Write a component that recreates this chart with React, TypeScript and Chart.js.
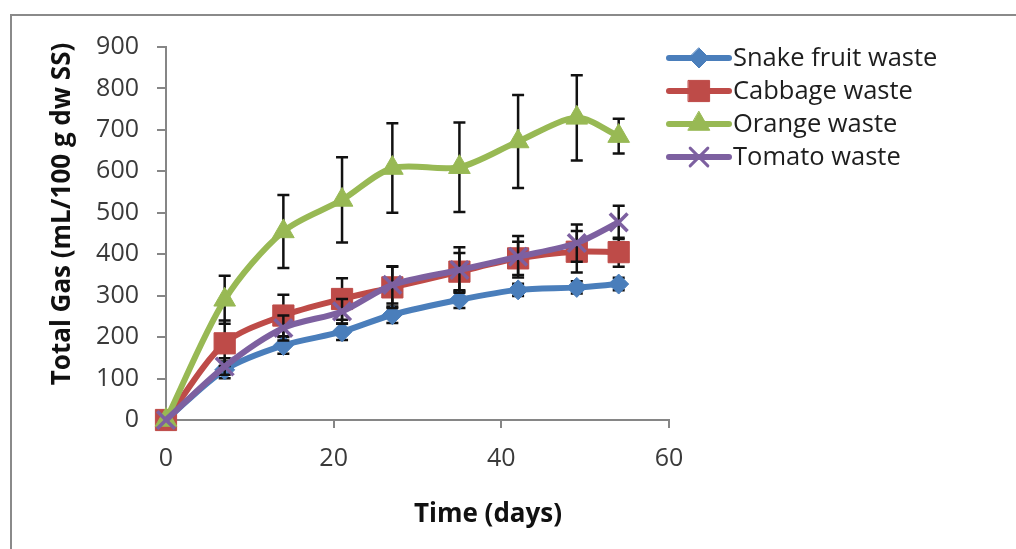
import React, { useEffect, useRef } from 'react';
import { Chart, registerables } from 'chart.js';

Chart.register(...registerables);

// ---- data ----
const days = [0, 7, 14, 21, 27, 35, 42, 49, 54];
const seriesNames = ['Snake fruit waste', 'Cabbage waste', 'Orange waste', 'Tomato waste'];
const snakeFruit = [0, 121, 180, 213, 254, 290, 314, 320, 328];
const cabbage = [0, 185, 252, 292, 320, 358, 390, 406, 405];
const orange = [0, 290, 455, 531, 608, 610, 672, 729, 685];
const tomato = [0, 129, 222, 262, 326, 362, 394, 427, 477];
const snakeFruitErr = [0, 20, 20, 20, 20, 20, 15, 15, 15];
const cabbageErr = [0, 55, 50, 50, 50, 45, 40, 50, 35];
const orangeErr = [0, 58, 88, 103, 108, 108, 112, 103, 42];
const tomatoErr = [0, 20, 30, 30, 45, 55, 50, 45, 40];
const xMin = 0, xMax = 60, xStep = 20;
const yMin = 0, yMax = 900, yStep = 100;
const xTitle = 'Time (days)';
const yTitle = 'Total Gas (mL/100 g dw SS)';

const COLORS = ['#4A7EBB', '#BE4B48', '#98B954', '#7D60A0'];
const STYLES = ['rectRot', 'rect', 'triangle', 'crossRot'];
const RADII = [10, 15, 12.5, 12.5];
const FONT = '"Open Sans", "Liberation Sans", sans-serif';
const AXIS_GREY = '#868686';

const values = [snakeFruit, cabbage, orange, tomato];
const errors = [snakeFruitErr, cabbageErr, orangeErr, tomatoErr];

function drawMarker(ctx: CanvasRenderingContext2D, style: string, x: number, y: number, r: number, color: string) {
  ctx.save();
  ctx.fillStyle = color;
  ctx.strokeStyle = color;
  ctx.lineWidth = 1;
  ctx.beginPath();
  if (style === 'rectRot') {
    ctx.moveTo(x, y - r); ctx.lineTo(x + r, y); ctx.lineTo(x, y + r); ctx.lineTo(x - r, y); ctx.closePath();
    ctx.fill(); ctx.stroke();
  } else if (style === 'rect') {
    const s = r * Math.SQRT1_2;
    ctx.rect(x - s, y - s, 2 * s, 2 * s); ctx.fill(); ctx.stroke();
  } else if (style === 'triangle') {
    ctx.moveTo(x, y - r);
    ctx.lineTo(x + r * Math.sin(2 * Math.PI / 3), y + r * 0.5);
    ctx.lineTo(x - r * Math.sin(2 * Math.PI / 3), y + r * 0.5);
    ctx.closePath(); ctx.fill(); ctx.stroke();
  } else {
    const o = r * Math.SQRT1_2;
    ctx.lineWidth = 3;
    ctx.moveTo(x - o, y - o); ctx.lineTo(x + o, y + o);
    ctx.moveTo(x + o, y - o); ctx.lineTo(x - o, y + o);
    ctx.stroke();
  }
  ctx.restore();
}

const errorBarPlugin = {
  id: 'errorBars',
  beforeDatasetDraw(chart: any, args: any) {
    const i = args.index;
    const errs = errors[i];
    const vals = values[i];
    const xs = chart.scales.x, ys = chart.scales.y;
    const ctx = chart.ctx as CanvasRenderingContext2D;
    ctx.save();
    ctx.strokeStyle = '#111111';
    ctx.lineWidth = 2.5;
    for (let j = 0; j < days.length; j++) {
      const e = errs[j];
      if (!e) continue;
      const x = xs.getPixelForValue(days[j]);
      const y1 = ys.getPixelForValue(vals[j] + e);
      const y2 = ys.getPixelForValue(vals[j] - e);
      ctx.beginPath();
      ctx.moveTo(x, y1); ctx.lineTo(x, y2);
      ctx.moveTo(x - 6, y1); ctx.lineTo(x + 6, y1);
      ctx.moveTo(x - 6, y2); ctx.lineTo(x + 6, y2);
      ctx.stroke();
    }
    ctx.restore();
  },
};

const decorPlugin = {
  id: 'decor',
  afterDraw(chart: any) {
    const ctx = chart.ctx as CanvasRenderingContext2D;
    ctx.save();
    // legend
    const rowY = [58, 91, 124, 157];
    for (let i = 0; i < seriesNames.length; i++) {
      const y = rowY[i];
      ctx.strokeStyle = COLORS[i];
      ctx.lineWidth = 6;
      ctx.lineCap = 'round';
      ctx.beginPath();
      ctx.moveTo(669, y); ctx.lineTo(729, y);
      ctx.stroke();
      drawMarker(ctx, STYLES[i], 699, y, RADII[i], COLORS[i]);
      ctx.fillStyle = '#1e1e1e';
      ctx.font = `25.5px ${FONT}`;
      ctx.textAlign = 'left';
      ctx.textBaseline = 'middle';
      ctx.fillText(seriesNames[i], 733, y + 1);
    }
    // axis titles
    ctx.fillStyle = '#111111';
    ctx.font = `bold 26px ${FONT}`;
    ctx.textAlign = 'center';
    ctx.textBaseline = 'middle';
    ctx.fillText(xTitle, 488, 515);
    ctx.translate(63, 214);
    ctx.rotate(-Math.PI / 2);
    ctx.fillText(yTitle, 0, 0);
    ctx.restore();
  },
};

export default function App() {
  const ref = useRef<HTMLCanvasElement | null>(null);

  useEffect(() => {
    const canvas = ref.current;
    if (!canvas) return;
    const datasets = seriesNames.map((name, i) => ({
      label: name,
      data: days.map((d, j) => ({ x: d, y: values[i][j] })),
      borderColor: COLORS[i],
      backgroundColor: COLORS[i],
      pointBackgroundColor: COLORS[i],
      pointBorderColor: COLORS[i],
      borderWidth: 6,
      pointStyle: STYLES[i],
      pointRadius: RADII[i],
      pointBorderWidth: i === 3 ? 3.5 : 1,
      tension: 0.3,
      clip: false as any,
      order: 3 - i,
    }));
    const chart = new Chart(canvas, {
      type: 'line',
      data: { datasets },
      options: {
        responsive: false,
        animation: false,
        events: [],
        layout: { padding: { left: 0, top: 47, right: 1016 - 669, bottom: 0 } },
        scales: {
          x: {
            type: 'linear',
            min: xMin,
            max: xMax,
            ticks: {
              stepSize: xStep,
              color: '#3a3a3a',
              font: { family: FONT, size: 25 },
              padding: 16,
              maxRotation: 0,
            },
            grid: { display: true, drawOnChartArea: false, drawTicks: true, tickLength: 8, color: AXIS_GREY, lineWidth: 2 },
            border: { display: true, color: AXIS_GREY, width: 2 },
            afterFit: (s: any) => { s.height = 549 - 420; },
          },
          y: {
            type: 'linear',
            min: yMin,
            max: yMax,
            ticks: {
              stepSize: yStep,
              color: '#3a3a3a',
              font: { family: FONT, size: 25 },
              padding: 18,
            },
            grid: { display: true, drawOnChartArea: false, drawTicks: true, tickLength: 9, color: AXIS_GREY, lineWidth: 2 },
            border: { display: true, color: AXIS_GREY, width: 2 },
            afterFit: (s: any) => { s.width = 166; },
          },
        },
        plugins: {
          legend: { display: false },
          tooltip: { enabled: false },
          title: { display: false },
        },
      },
      plugins: [errorBarPlugin, decorPlugin],
    });
    return () => chart.destroy();
  }, []);

  return (
    <div style={{ position: 'absolute', left: 0, top: 0, width: 1016, height: 549, background: '#ffffff', overflow: 'hidden' }}>
      <div style={{ position: 'absolute', left: 10, top: 14, width: 1100, height: 600, borderLeft: '2px solid #8a8a8a', borderTop: '2px solid #8a8a8a' }} />
      <canvas ref={ref} width={1016} height={549} style={{ position: 'absolute', left: 0, top: 0, width: 1016, height: 549 }} />
    </div>
  );
}
